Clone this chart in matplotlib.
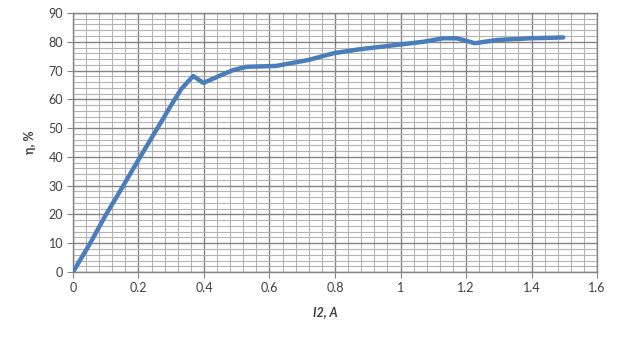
import numpy as np
import matplotlib
matplotlib.use('Agg')
from matplotlib import pyplot as plt
from matplotlib.ticker import MultipleLocator

# courbe de rendement
i2 = [0, 0.05, 0.1, 0.15, 0.2, 0.25, 0.3, 0.33, 0.367, 0.398, 0.444, 0.49,
      0.53, 0.62, 0.72, 0.795, 0.876, 0.988, 1.07, 1.13, 1.172, 1.227,
      1.294, 1.395, 1.497]
eta = [0, 9.5, 19.8, 29.3, 39, 48.5, 58, 63.5, 68.1, 65.7, 68, 70.2,
       71.3, 71.6, 73.7, 76, 77.4, 78.9, 80, 81.2, 81.2, 79.5,
       80.6, 81.2, 81.5]

plt.rcParams['font.family'] = ['Lato', 'DejaVu Sans']

fig = plt.figure(figsize=(6.17, 3.39), dpi=100)
ax = fig.add_axes([0.1183, 0.1976, 0.8493, 0.7641])

ax.plot(i2, eta, color='#4A7EBB', lw=3.2, solid_capstyle='round', zorder=3)

ax.set_xlim(0, 1.6)
ax.set_ylim(0, 90)
ax.xaxis.set_minor_locator(MultipleLocator(0.04))
ax.yaxis.set_major_locator(MultipleLocator(10))
ax.yaxis.set_minor_locator(MultipleLocator(2))
ax.set_xticks(np.arange(0, 1.61, 0.2))
ax.set_xticklabels(['0', '0.2', '0.4', '0.6', '0.8', '1', '1.2', '1.4', '1.6'])

ax.grid(which='major', color='#848484', lw=1.0)
ax.grid(which='minor', color='#B4B4B4', lw=0.8)
ax.set_axisbelow(True)
for s in ax.spines.values():
    s.set_color('#848484')
    s.set_linewidth(1.0)

ax.tick_params(which='major', length=4, color='#848484', labelsize=9,
               labelcolor='#404040', pad=3)
ax.tick_params(which='minor', length=0)

fig.text(0.049, 0.58, 'η, %', rotation=90, fontsize=9, fontweight='bold',
         ha='center', va='center', color='#404040')
fig.text(0.527, 0.08, 'I2, A', fontsize=9, fontweight='bold', style='italic',
         ha='center', va='center', color='#404040')

fig.savefig('out.png', dpi=100)
